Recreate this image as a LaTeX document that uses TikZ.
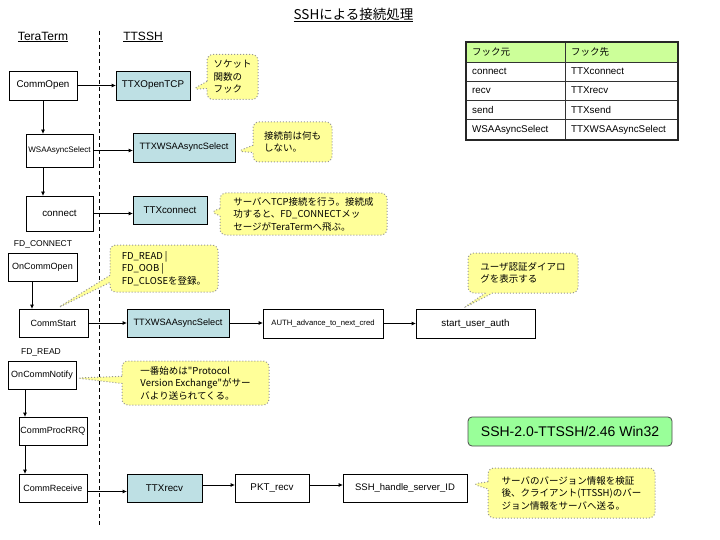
\documentclass[tikz,border=0pt]{standalone}
\usepackage{fontspec}
\setmainfont{Liberation Sans}
\newfontfamily\jp{Noto Sans CJK JP}
\usetikzlibrary{shapes.callouts,arrows.meta,calc}
\definecolor{boxcyan}{RGB}{190,224,228}
\definecolor{noteyellow}{RGB}{255,255,153}
\definecolor{notegray}{RGB}{150,150,150}
\definecolor{vergreen}{RGB}{153,255,153}
\definecolor{headgreen}{RGB}{204,255,153}
\begin{document}
\begin{tikzpicture}[x=1pt,y=-1pt,
  fbox/.style={draw=black, line width=0.8pt, fill=white, inner sep=0pt, font=\fontsize{9}{11}\selectfont},
  hbox/.style={fbox, fill=boxcyan},
  note/.style={rectangle callout, rounded corners=6pt, draw=notegray, dotted, line width=1pt, fill=noteyellow, inner sep=0pt, align=left, font=\jp\fontsize{9.5}{12.5}\selectfont},
  conn/.style={line width=0.8pt, -{Triangle[length=4pt,width=3.5pt]}},
  lbl/.style={inner sep=0pt, font=\fontsize{8.5}{10}\selectfont},
  head/.style={inner sep=0pt, font=\fontsize{12}{14}\selectfont},
  cell/.style={inner sep=0pt, anchor=west, font=\fontsize{9.8}{11}\selectfont},
]
\useasboundingbox (0,0) rectangle (720,540);

% title and column heads
\node[inner sep=0pt, font=\jp\fontsize{13.5}{15}\selectfont] (title) at (353.5,15) {\underline{SSHによる接続処理}};
\node[head] (tt) at (43,37) {\underline{TeraTerm}};
\node[head] (ts) at (143,37) {\underline{TTSSH}};

% divider
\coordinate (dtop) at (99,31);
\coordinate (dbot) at (99,525);
\draw[line width=0.9pt, dash pattern=on 4pt off 3pt] (dtop) -- (dbot);

% boxes
\node[fbox, minimum width=68pt, minimum height=29pt, font=\fontsize{9.8}{11}\selectfont] (commopen) at (43,85.5) {CommOpen};
\node[hbox, minimum width=74pt, minimum height=29pt, font=\fontsize{9.8}{11}\selectfont] (ttxopen) at (153,85.5) {TTXOpenTCP};
\node[fbox, minimum width=67pt, minimum height=33pt, font=\fontsize{8}{10}\selectfont] (wsa1) at (59.5,150.5) {WSAAsyncSelect};
\node[hbox, minimum width=102pt, minimum height=29pt, font=\fontsize{9.2}{11}\selectfont] (ttxwsa1) at (184,147.5) {TTXWSAAsyncSelect};
\node[fbox, minimum width=67pt, minimum height=35pt, font=\fontsize{9.8}{11}\selectfont] (connect) at (59.5,213.5) {connect};
\node[hbox, minimum width=74pt, minimum height=28pt, font=\fontsize{9.8}{11}\selectfont] (ttxconnect) at (170,210) {TTXconnect};
\node[lbl] (fdc) at (43,244) {FD\_CONNECT};
\node[fbox, minimum width=69pt, minimum height=28pt] (oncommopen) at (42.5,267) {OnCommOpen};
\node[fbox, minimum width=69pt, minimum height=28pt] (commstart) at (53.5,323) {CommStart};
\node[hbox, minimum width=102pt, minimum height=28pt, font=\fontsize{9.2}{11}\selectfont] (ttxwsa2) at (178,323) {TTXWSAAsyncSelect};
\node[fbox, minimum width=120pt, minimum height=29pt, font=\fontsize{7.7}{9}\selectfont] (auth) at (323,323.5) {AUTH\_advance\_to\_next\_cred};
\node[fbox, minimum width=119pt, minimum height=29pt, font=\fontsize{9.8}{11}\selectfont] (startauth) at (475.5,323.5) {start\_user\_auth};
\node[lbl] (fdr) at (41,352) {FD\_READ};
\node[fbox, minimum width=68pt, minimum height=28pt] (oncommnotify) at (42,375) {OnCommNotify};
\node[fbox, minimum width=68pt, minimum height=28pt] (commprocrrq) at (53,431) {CommProcRRQ};
\node[fbox, minimum width=68pt, minimum height=28pt] (commreceive) at (53,488) {CommReceive};
\node[hbox, minimum width=75pt, minimum height=28pt, font=\fontsize{9.8}{11}\selectfont] (ttxrecv) at (164.5,488) {TTXrecv};
\node[fbox, minimum width=74pt, minimum height=28pt, font=\fontsize{9.8}{11}\selectfont] (pkt) at (272,488) {PKT\_recv};
\node[fbox, minimum width=124pt, minimum height=28pt, font=\fontsize{9.5}{11}\selectfont] (sshid) at (405,488) {SSH\_handle\_server\_ID};

% version box
\node[draw=black!70, line width=0.8pt, fill=vergreen, rounded corners=4pt, minimum width=204pt, minimum height=29pt, inner sep=0pt, font=\fontsize{14}{16}\selectfont] (ver) at (570,431.5) {SSH-2.0-TTSSH/2.46 Win32};

% connectors
\draw[conn] (commopen.east) -- (ttxopen.west);
\draw[conn] (commopen.south) -- (commopen.south |- wsa1.north);
\draw[conn] (commopen.south |- wsa1.south) -- (commopen.south |- connect.north);
\draw[conn] (wsa1.east) -- (wsa1.east -| ttxwsa1.west);
\draw[conn] (connect.east) -- (connect.east -| ttxconnect.west);
\draw[conn] ([xshift=-10.5pt]oncommopen.south) -- ([xshift=-10.5pt]oncommopen.south |- commstart.north);
\draw[conn] (commstart.east) -- (ttxwsa2.west);
\draw[conn] (ttxwsa2.east) -- (ttxwsa2.east -| auth.west);
\draw[conn] (auth.east) -- (auth.east -| startauth.west);
\draw[conn] ([xshift=-17pt]oncommnotify.south) -- ([xshift=-17pt]oncommnotify.south |- commprocrrq.north);
\draw[conn] ([xshift=-28pt]commprocrrq.south) -- ([xshift=-28pt]commprocrrq.south |- commreceive.north);
\draw[conn] ([yshift=-3.5pt]commreceive.east) -- ([yshift=-3.5pt]commreceive.east -| ttxrecv.west);
\draw[conn] ([yshift=3pt]ttxrecv.east) -- ([yshift=3pt]ttxrecv.east -| pkt.west);
\draw[conn] ([yshift=3pt]pkt.east) -- ([yshift=3pt]pkt.east -| sshid.west);

% callouts
\node[note, minimum width=51pt, minimum height=45pt, callout absolute pointer={($(ttxopen.east)+(2,4)$)}] (n1) at (232.5,77) {ソケット\\関数の\\フック};
\node[note, minimum width=79pt, minimum height=40pt, callout absolute pointer={($(ttxwsa1.east)+(2,4)$)}] (n2) at (292.5,142) {接続前は何も\\しない。};
\node[note, minimum width=167pt, minimum height=42pt, callout absolute pointer={($(ttxconnect.east)+(3,2)$)}] (n3) at (303.5,214) {サーバへTCP接続を行う。接続成\\功すると、FD\_CONNECTメッ\\セージがTeraTermへ飛ぶ。};
\node[note, minimum width=108pt, minimum height=47pt, callout absolute pointer={($(commstart.north)+(3,0)$)}] (n4) at (164,268.5) {FD\_READ |\\FD\_OOB |\\FD\_CLOSEを登録。};
\node[note, minimum width=110pt, minimum height=40pt, callout absolute pointer={($(startauth.north)+(-13,0)$)}] (n5) at (523,273) {ユーザ認証ダイアロ\\グを表示する};
\node[note, minimum width=147pt, minimum height=44pt, callout absolute pointer={($(oncommnotify.east)+(0,3)$)}] (n6) at (195.5,383) {一番始めは"Protocol\\Version Exchange"がサー\\バより送られてくる。};
\node[note, minimum width=167pt, minimum height=50pt, callout absolute pointer={($(sshid.east)+(5,-4)$)}] (n7) at (571.5,493) {サーバのバージョン情報を検証\\後、クライアント(TTSSH)のバー\\ジョン情報をサーバへ送る。};

% table
\fill[headgreen] (466,42) rectangle (678,62);
\draw[line width=0.6pt, black!80] (466,62) -- (678,62) (466,81) -- (678,81) (466,100) -- (678,100) (466,119) -- (678,119) (565,42) -- (565,140);
\draw[line width=1.8pt, black!85] (466,42) rectangle (678,140);
\node[cell, font=\jp\fontsize{9.5}{11}\selectfont] (h1) at (472,52) {フック元};
\node[cell, font=\jp\fontsize{9.5}{11}\selectfont] (h2) at (571,52) {フック先};
\node[cell] (a1) at (472,71.5) {connect};
\node[cell] (b1) at (571,71.5) {TTXconnect};
\node[cell] (a2) at (472,90.5) {recv};
\node[cell] (b2) at (571,90.5) {TTXrecv};
\node[cell] (a3) at (472,109.5) {send};
\node[cell] (b3) at (571,109.5) {TTXsend};
\node[cell] (a4) at (472,129.5) {WSAAsyncSelect};
\node[cell] (b4) at (571,129.5) {TTXWSAAsyncSelect};
\end{tikzpicture}
\end{document}
